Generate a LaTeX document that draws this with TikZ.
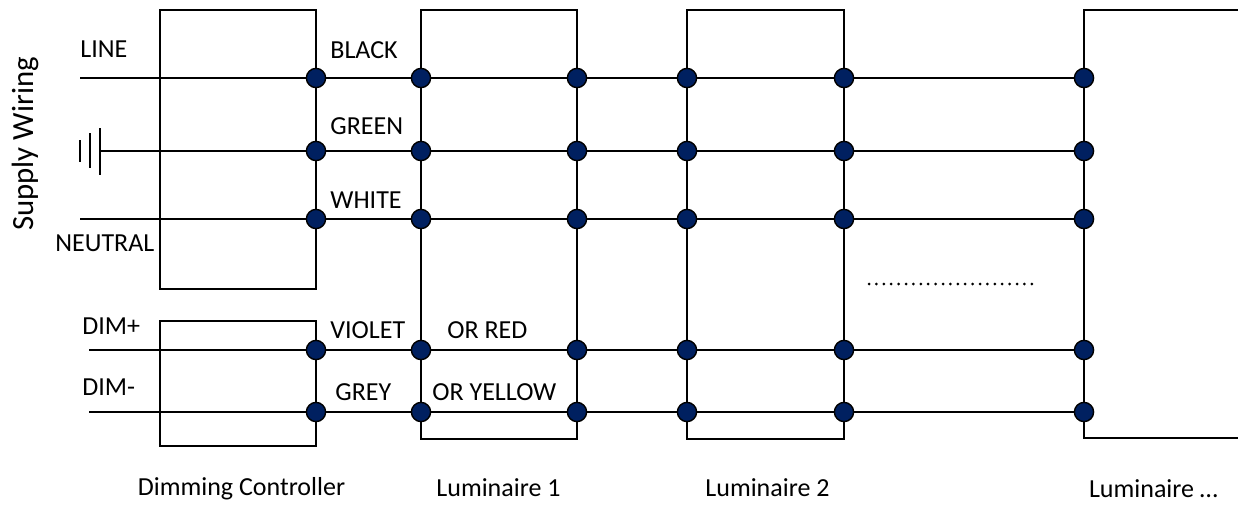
\documentclass[tikz,border=0pt]{standalone}
\usepackage{fontspec}
\setmainfont{Carlito}
\usetikzlibrary{backgrounds}
\definecolor{dotblue}{HTML}{002060}
\tikzset{
  wire/.style={line width=1pt},
  unit/.style={draw, line width=1pt},
  joint/.style={draw, circle, fill=dotblue, line width=0.7pt, minimum size=9.6pt, inner sep=0pt},
  lbl/.style={font=\fontsize{13}{15.6}\selectfont, inner sep=0pt, anchor=west},
  title/.style={font=\fontsize{13}{15.6}\selectfont, inner sep=0pt}
}

\begin{document}
\begin{tikzpicture}[x=0.5pt, y=-0.5pt]
  \useasboundingbox (0,0) rectangle (1238,504);

  \foreach \x/\c in {316/ctl, 421/la, 577/lb, 687/ma, 844/mb, 1084/na}
    \foreach \y/\r in {78/line, 151/gnd, 219/neu, 350/dimp, 412/dimm}
      \node[joint] (\c-\r) at (\x,\y) {};

  \coordinate (s-line) at (80,78);
  \coordinate (s-gnd) at (100,151);
  \coordinate (s-neu) at (80,219);
  \coordinate (s-dimp) at (89,350);
  \coordinate (s-dimm) at (89,412);

  \begin{scope}[on background layer]
    \draw[unit] (160,10) rectangle (316,289);
    \draw[unit] (160,321) rectangle (316,446);
    \draw[unit] (421,10) rectangle (577,439);
    \draw[unit] (687,10) rectangle (844,439);
    \draw[unit] (1238,10) -| (1084,438) -- (1238,438);
    \foreach \r in {line, gnd, neu, dimp, dimm}
      \draw[wire] (s-\r) -- (ctl-\r) -- (la-\r) -- (lb-\r) -- (ma-\r) -- (mb-\r) -- (na-\r);
    % earth
    \draw[wire] (100,128) -- (100,175);
    \draw[wire] (90,133) -- (90,168);
    \draw[wire] (80,140) -- (80,162);
  \end{scope}

  \draw[line width=1.5pt, dash pattern=on 0pt off 3.7pt, line cap=round] (869,284) -- (1038,284);

  \node[title, rotate=90, font=\fontsize{15.4}{18.5}\selectfont] (supply) at (25,144) {Supply Wiring};
  \node[lbl] (line) at (80,49) {LINE};
  \node[lbl] (neutral) at (55,243) {NEUTRAL};
  \node[lbl] (dimplus) at (82,326) {DIM+};
  \node[lbl] (dimminus) at (82,387) {DIM-};
  \node[lbl] (black) at (330,50) {BLACK};
  \node[lbl] (green) at (330,126) {GREEN};
  \node[lbl] (white) at (330,200) {WHITE};
  \node[lbl] (violet) at (330,330) {VIOLET};
  \node[lbl] (red) at (447,330) {OR RED};
  \node[lbl] (grey) at (335,392) {GREY};
  \node[lbl] (yellow) at (432,392) {OR YELLOW};

  \node[title] (ctl) at (241.5,489) {Dimming Controller};
  \node[title] (lum1) at (498.5,488) {Luminaire 1};
  \node[title] (lum2) at (767.5,488) {Luminaire 2};
  \node[title] (lumn) at (1153.5,489) {Luminaire …};
\end{tikzpicture}
\end{document}
